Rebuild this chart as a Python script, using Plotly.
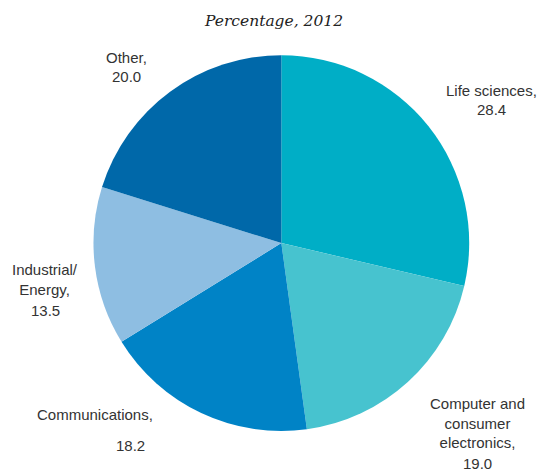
import plotly.graph_objects as go

# Sector shares, percentage, 2012
sectors = ["Life sciences", "Computer and consumer electronics", "Communications",
           "Industrial/ Energy", "Other"]
shares = [28.4, 19.0, 18.2, 13.5, 20.0]
colors = ["#00AEC6", "#47C3CF", "#0083C6", "#8EBEE2", "#0068A9"]

# Label text for each slice (line breaks chosen for layout)
label_lines = [
    "Life sciences,",
    "Computer and<br>consumer<br>electronics,",
    "Communications,",
    "Industrial/<br>Energy,",
    "Other,",
]
# Anchor positions (paper coordinates) for the name block and the value
name_pos = [
    (0.911, 0.809),
    (0.885, 0.104),
    (0.176, 0.121),
    (0.084, 0.407),
    (0.234, 0.879),
]
value_pos = [
    (0.911, 0.767),
    (0.885, 0.019),
    (0.241, 0.057),
    (0.084, 0.343),
    (0.234, 0.837),
]

fig = go.Figure(
    go.Pie(
        labels=sectors,
        values=shares,
        marker=dict(colors=colors, line=dict(width=0)),
        sort=False,
        direction="clockwise",
        rotation=0,
        textinfo="none",
        hoverinfo="label+value",
        showlegend=False,
        domain=dict(x=[0.173, 0.869], y=[0.087, 0.883]),
    )
)

label_font = dict(family="Liberation Sans, Arial, sans-serif", size=15, color="#333333")
for text, val, (nx, ny), (vx, vy) in zip(label_lines, shares, name_pos, value_pos):
    fig.add_annotation(
        x=nx, y=ny, xref="paper", yref="paper", text=text,
        showarrow=False, align="center", xanchor="center", yanchor="middle",
        font=label_font,
    )
    fig.add_annotation(
        x=vx, y=vy, xref="paper", yref="paper", text=f"{val:.1f}",
        showarrow=False, align="center", xanchor="center", yanchor="middle",
        font=label_font,
    )

fig.add_annotation(
    x=0.507, y=0.955, xref="paper", yref="paper",
    text="<i>Percentage, 2012</i>",
    showarrow=False, xanchor="center", yanchor="middle",
    font=dict(family="DejaVu Serif, serif", size=15.5, color="#222222"),
)

fig.update_layout(
    width=540, height=472,
    margin=dict(l=0, r=0, t=0, b=0),
    paper_bgcolor="white", plot_bgcolor="white",
)

fig.write_html("out.html")
